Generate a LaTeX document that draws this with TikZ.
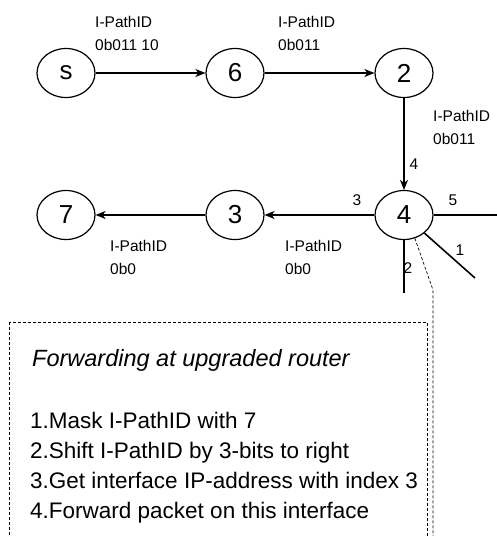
\documentclass[tikz,border=0pt]{standalone}
\usepackage{fontspec}
\setmainfont{Liberation Sans}
\usetikzlibrary{arrows.meta,shapes.geometric}

\tikzset{
  router/.style={draw,ellipse,line width=1.2pt,minimum width=58pt,minimum height=49pt,inner sep=0pt,font=\fontsize{26}{26}\selectfont},
  link/.style={line width=1.6pt,-{Stealth[length=10pt,width=8pt,inset=3pt]}},
  wire/.style={line width=1.6pt},
  idlabel/.style={align=left,anchor=north west,inner sep=0pt,font=\fontsize{15.5}{23}\selectfont},
  portlabel/.style={inner sep=0pt,font=\fontsize{15.5}{15.5}\selectfont},
  dashline/.style={line width=0.7pt,dash pattern=on 3pt off 2pt},
  boxtext/.style={anchor=base west,inner sep=0pt,font=\fontsize{22.5}{30}\selectfont}
}

\begin{document}
\begin{tikzpicture}[x=1pt,y=-1pt]
  \useasboundingbox (0,0) rectangle (496,536);

  % routers
  \node[router] (nS) at (66,73) {s};
  \node[router] (n6) at (235,73) {6};
  \node[router] (n2) at (404,73) {2};
  \node[router] (n4) at (404,215) {4};
  \node[router] (n3) at (235,215) {3};
  \node[router] (n7) at (66,215) {7};

  % path of the packet
  \draw[link] (nS) -- (n6);
  \draw[link] (n6) -- (n2);
  \draw[link] (n2) -- (n4);
  \draw[link] (n4) -- (n3);
  \draw[link] (n3) -- (n7);

  % other interfaces of 4
  \coordinate (p5) at (497,215);
  \coordinate (p1) at (475,278);
  \coordinate (p2) at (404,293);
  \draw[wire] (n4) -- (p5);
  \draw[wire] (n4) -- (p1);
  \draw[wire] (n4) -- (p2);

  % I-PathID on each hop
  \node[idlabel] (id1) at (95,15.7) {I-PathID\\0b011 10};
  \node[idlabel] (id2) at (278,15.7) {I-PathID\\0b011};
  \node[idlabel] (id3) at (433,109.7) {I-PathID\\0b011};
  \node[idlabel] (id4) at (285,239.7) {I-PathID\\0b0};
  \node[idlabel] (id5) at (110,239.7) {I-PathID\\0b0};

  % interface indices
  \node[portlabel] (q4) at (414,164) {4};
  \node[portlabel] (q3) at (357,200) {3};
  \node[portlabel] (q5) at (453,200) {5};
  \node[portlabel] (q1) at (460,250) {1};
  \node[portlabel] (q2) at (408,268) {2};

  % callout
  \coordinate (d1) at (433,290);
  \coordinate (d2) at (433,545);
  \draw[dashline] (n4.-65) -- (d1) -- (d2);
  \draw[dashline] (9,322) rectangle (427,545);
  \node[boxtext,font=\fontsize{23.5}{30}\selectfont\itshape] (title) at (32,366) {Forwarding at upgraded router};
  \foreach \t [count=\i] in {Mask I-PathID with 7,Shift I-PathID by 3-bits to right,Get interface IP-address with index 3,Forward packet on this interface}
    \node[boxtext] (step\i) at (30,398+30*\i) {\i.\t};
\end{tikzpicture}
\end{document}
